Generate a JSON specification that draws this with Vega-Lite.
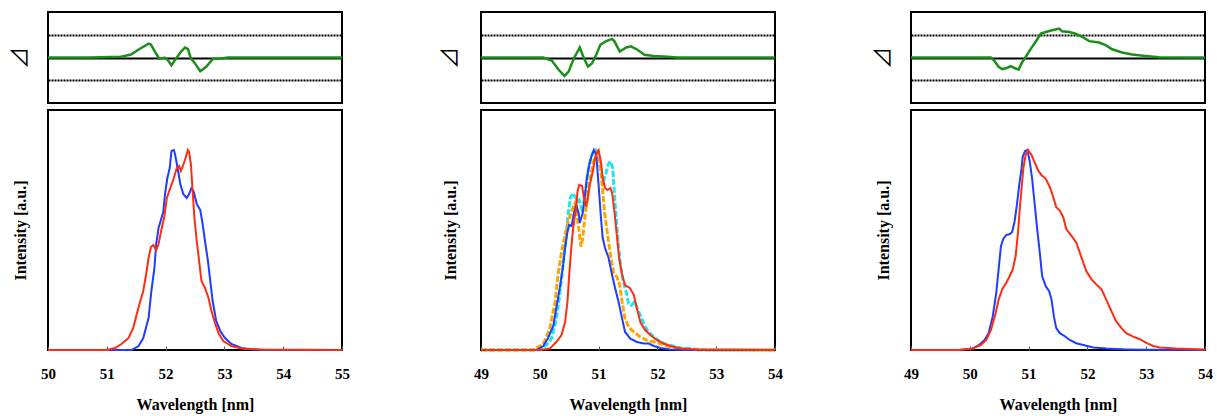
{
"$schema": "https://vega.github.io/schema/vega-lite/v6.json",
"padding": {"left": 7, "top": 11, "right": 2, "bottom": 2},
"background": "white",
"spacing": 86,
"config": {
  "font": "Liberation Serif",
  "view": {"stroke": "black", "strokeWidth": 2},
  "style": {"guide-label": {"font": "Liberation Serif", "fontSize": 15, "fontWeight": "bold", "fill": "black"}, "guide-title": {"font": "Liberation Serif", "fontSize": 16, "fontWeight": "bold", "fill": "black"}},
  "axis": {"labelFont": "Liberation Serif", "titleFont": "Liberation Serif", "labelFontWeight": "bold", "titleFontWeight": "bold", "labelColor": "black", "titleColor": "black", "labelFontSize": 15, "titleFontSize": 16}
},
"datasets": {
"b1": [
{"s":"blue","w":50,"I":0},{"s":"blue","w":51,"I":0},{"s":"blue","w":51.42,"I":0},{"s":"blue","w":51.54,"I":0.02},{"s":"blue","w":51.62,"I":0.06},{"s":"blue","w":51.71,"I":0.16},{"s":"blue","w":51.76,"I":0.30},{"s":"blue","w":51.81,"I":0.41},{"s":"blue","w":51.84,"I":0.53},{"s":"blue","w":51.88,"I":0.61},{"s":"blue","w":51.92,"I":0.65},{"s":"blue","w":51.96,"I":0.69},{"s":"blue","w":51.99,"I":0.78},{"s":"blue","w":52.03,"I":0.86},{"s":"blue","w":52.07,"I":0.91},{"s":"blue","w":52.10,"I":0.995},{"s":"blue","w":52.14,"I":1.0},{"s":"blue","w":52.16,"I":0.98},{"s":"blue","w":52.21,"I":0.90},{"s":"blue","w":52.25,"I":0.83},{"s":"blue","w":52.30,"I":0.78},{"s":"blue","w":52.36,"I":0.76},{"s":"blue","w":52.40,"I":0.78},{"s":"blue","w":52.44,"I":0.81},{"s":"blue","w":52.48,"I":0.79},{"s":"blue","w":52.53,"I":0.73},{"s":"blue","w":52.59,"I":0.70},{"s":"blue","w":52.63,"I":0.63},{"s":"blue","w":52.67,"I":0.545},{"s":"blue","w":52.72,"I":0.445},{"s":"blue","w":52.76,"I":0.345},{"s":"blue","w":52.80,"I":0.245},{"s":"blue","w":52.86,"I":0.145},{"s":"blue","w":52.93,"I":0.095},{"s":"blue","w":53.01,"I":0.06},{"s":"blue","w":53.12,"I":0.03},{"s":"blue","w":53.29,"I":0.01},{"s":"blue","w":53.46,"I":0.003},{"s":"blue","w":53.7,"I":0},{"s":"blue","w":55,"I":0},
{"s":"red","w":50,"I":0},{"s":"red","w":51.0,"I":0},{"s":"red","w":51.14,"I":0.01},{"s":"red","w":51.25,"I":0.03},{"s":"red","w":51.37,"I":0.06},{"s":"red","w":51.45,"I":0.11},{"s":"red","w":51.51,"I":0.18},{"s":"red","w":51.57,"I":0.245},{"s":"red","w":51.62,"I":0.295},{"s":"red","w":51.67,"I":0.38},{"s":"red","w":51.71,"I":0.46},{"s":"red","w":51.75,"I":0.515},{"s":"red","w":51.79,"I":0.525},{"s":"red","w":51.84,"I":0.50},{"s":"red","w":51.88,"I":0.53},{"s":"red","w":51.92,"I":0.59},{"s":"red","w":51.98,"I":0.67},{"s":"red","w":52.02,"I":0.76},{"s":"red","w":52.08,"I":0.81},{"s":"red","w":52.13,"I":0.85},{"s":"red","w":52.19,"I":0.91},{"s":"red","w":52.23,"I":0.92},{"s":"red","w":52.26,"I":0.895},{"s":"red","w":52.30,"I":0.925},{"s":"red","w":52.34,"I":0.96},{"s":"red","w":52.38,"I":1.0},{"s":"red","w":52.40,"I":0.99},{"s":"red","w":52.43,"I":0.93},{"s":"red","w":52.46,"I":0.795},{"s":"red","w":52.49,"I":0.66},{"s":"red","w":52.53,"I":0.545},{"s":"red","w":52.57,"I":0.445},{"s":"red","w":52.61,"I":0.345},{"s":"red","w":52.67,"I":0.31},{"s":"red","w":52.73,"I":0.26},{"s":"red","w":52.78,"I":0.195},{"s":"red","w":52.84,"I":0.135},{"s":"red","w":52.90,"I":0.085},{"s":"red","w":52.98,"I":0.045},{"s":"red","w":53.12,"I":0.02},{"s":"red","w":53.29,"I":0.008},{"s":"red","w":53.6,"I":0.002},{"s":"red","w":55,"I":0}
],
"d1": [
{"w":50,"d":0},{"w":50.73,"d":0},{"w":51.24,"d":0.03},{"w":51.41,"d":0.13},{"w":51.55,"d":0.365},{"w":51.71,"d":0.61},{"w":51.75,"d":0.57},{"w":51.82,"d":0.25},{"w":51.89,"d":-0.04},{"w":51.99,"d":-0.01},{"w":52.04,"d":-0.12},{"w":52.10,"d":-0.34},{"w":52.18,"d":-0.04},{"w":52.26,"d":0.25},{"w":52.33,"d":0.44},{"w":52.38,"d":0.365},{"w":52.43,"d":-0.04},{"w":52.50,"d":-0.26},{"w":52.59,"d":-0.6},{"w":52.69,"d":-0.41},{"w":52.80,"d":-0.07},{"w":52.94,"d":-0.04},{"w":53.06,"d":0},{"w":55,"d":0}
],
"b2": [
{"s":"cyan","w":49,"I":0},{"s":"cyan","w":50.0,"I":0},{"s":"cyan","w":50.11,"I":0.023},{"s":"cyan","w":50.20,"I":0.057},{"s":"cyan","w":50.27,"I":0.14},{"s":"cyan","w":50.33,"I":0.257},{"s":"cyan","w":50.39,"I":0.408},{"s":"cyan","w":50.44,"I":0.542},{"s":"cyan","w":50.48,"I":0.675},{"s":"cyan","w":50.52,"I":0.76},{"s":"cyan","w":50.56,"I":0.784},{"s":"cyan","w":50.60,"I":0.768},{"s":"cyan","w":50.64,"I":0.742},{"s":"cyan","w":50.67,"I":0.75},{"s":"cyan","w":50.71,"I":0.709},{"s":"cyan","w":50.75,"I":0.742},{"s":"cyan","w":50.79,"I":0.826},{"s":"cyan","w":50.83,"I":0.91},{"s":"cyan","w":50.87,"I":0.96},{"s":"cyan","w":50.91,"I":0.993},{"s":"cyan","w":50.95,"I":1.0},{"s":"cyan","w":51.00,"I":0.96},{"s":"cyan","w":51.04,"I":0.893},{"s":"cyan","w":51.08,"I":0.843},{"s":"cyan","w":51.12,"I":0.876},{"s":"cyan","w":51.16,"I":0.926},{"s":"cyan","w":51.20,"I":0.943},{"s":"cyan","w":51.24,"I":0.91},{"s":"cyan","w":51.27,"I":0.776},{"s":"cyan","w":51.30,"I":0.659},{"s":"cyan","w":51.34,"I":0.508},{"s":"cyan","w":51.38,"I":0.408},{"s":"cyan","w":51.42,"I":0.341},{"s":"cyan","w":51.47,"I":0.291},{"s":"cyan","w":51.51,"I":0.232},{"s":"cyan","w":51.56,"I":0.224},{"s":"cyan","w":51.61,"I":0.241},{"s":"cyan","w":51.66,"I":0.207},{"s":"cyan","w":51.72,"I":0.166},{"s":"cyan","w":51.78,"I":0.124},{"s":"cyan","w":51.85,"I":0.09},{"s":"cyan","w":51.94,"I":0.065},{"s":"cyan","w":52.05,"I":0.04},{"s":"cyan","w":52.17,"I":0.027},{"s":"cyan","w":52.4,"I":0.01},{"s":"cyan","w":52.7,"I":0.003},{"s":"cyan","w":53.0,"I":0},{"s":"cyan","w":54,"I":0},
{"s":"orange","w":49,"I":0},{"s":"orange","w":49.89,"I":0},{"s":"orange","w":50.06,"I":0.03},{"s":"orange","w":50.17,"I":0.107},{"s":"orange","w":50.26,"I":0.24},{"s":"orange","w":50.31,"I":0.375},{"s":"orange","w":50.37,"I":0.49},{"s":"orange","w":50.43,"I":0.575},{"s":"orange","w":50.48,"I":0.64},{"s":"orange","w":50.52,"I":0.675},{"s":"orange","w":50.57,"I":0.717},{"s":"orange","w":50.60,"I":0.734},{"s":"orange","w":50.63,"I":0.684},{"s":"orange","w":50.67,"I":0.59},{"s":"orange","w":50.70,"I":0.517},{"s":"orange","w":50.73,"I":0.558},{"s":"orange","w":50.77,"I":0.675},{"s":"orange","w":50.80,"I":0.742},{"s":"orange","w":50.84,"I":0.826},{"s":"orange","w":50.88,"I":0.893},{"s":"orange","w":50.92,"I":0.95},{"s":"orange","w":50.97,"I":0.985},{"s":"orange","w":51.00,"I":0.968},{"s":"orange","w":51.04,"I":0.893},{"s":"orange","w":51.07,"I":0.793},{"s":"orange","w":51.10,"I":0.692},{"s":"orange","w":51.13,"I":0.625},{"s":"orange","w":51.17,"I":0.54},{"s":"orange","w":51.21,"I":0.458},{"s":"orange","w":51.26,"I":0.383},{"s":"orange","w":51.31,"I":0.366},{"s":"orange","w":51.36,"I":0.324},{"s":"orange","w":51.40,"I":0.24},{"s":"orange","w":51.45,"I":0.157},{"s":"orange","w":51.51,"I":0.115},{"s":"orange","w":51.60,"I":0.09},{"s":"orange","w":51.71,"I":0.065},{"s":"orange","w":51.82,"I":0.048},{"s":"orange","w":51.94,"I":0.04},{"s":"orange","w":52.05,"I":0.032},{"s":"orange","w":52.17,"I":0.02},{"s":"orange","w":52.4,"I":0.006},{"s":"orange","w":52.7,"I":0},{"s":"orange","w":54,"I":0},
{"s":"blue","w":49,"I":0},{"s":"blue","w":49.94,"I":0},{"s":"blue","w":50.06,"I":0.02},{"s":"blue","w":50.14,"I":0.06},{"s":"blue","w":50.23,"I":0.12},{"s":"blue","w":50.28,"I":0.21},{"s":"blue","w":50.34,"I":0.31},{"s":"blue","w":50.39,"I":0.41},{"s":"blue","w":50.43,"I":0.51},{"s":"blue","w":50.47,"I":0.59},{"s":"blue","w":50.50,"I":0.625},{"s":"blue","w":50.54,"I":0.62},{"s":"blue","w":50.58,"I":0.685},{"s":"blue","w":50.62,"I":0.725},{"s":"blue","w":50.66,"I":0.685},{"s":"blue","w":50.68,"I":0.635},{"s":"blue","w":50.73,"I":0.685},{"s":"blue","w":50.77,"I":0.775},{"s":"blue","w":50.80,"I":0.86},{"s":"blue","w":50.84,"I":0.925},{"s":"blue","w":50.88,"I":0.97},{"s":"blue","w":50.92,"I":1.0},{"s":"blue","w":50.96,"I":0.975},{"s":"blue","w":51.00,"I":0.826},{"s":"blue","w":51.04,"I":0.66},{"s":"blue","w":51.07,"I":0.56},{"s":"blue","w":51.11,"I":0.51},{"s":"blue","w":51.17,"I":0.46},{"s":"blue","w":51.23,"I":0.375},{"s":"blue","w":51.28,"I":0.31},{"s":"blue","w":51.34,"I":0.24},{"s":"blue","w":51.40,"I":0.157},{"s":"blue","w":51.45,"I":0.09},{"s":"blue","w":51.54,"I":0.057},{"s":"blue","w":51.65,"I":0.04},{"s":"blue","w":51.77,"I":0.032},{"s":"blue","w":51.85,"I":0.032},{"s":"blue","w":51.94,"I":0.02},{"s":"blue","w":52.05,"I":0.01},{"s":"blue","w":52.22,"I":0.003},{"s":"blue","w":52.5,"I":0},{"s":"blue","w":54,"I":0},
{"s":"red","w":49,"I":0},{"s":"red","w":50.0,"I":0},{"s":"red","w":50.17,"I":0.007},{"s":"red","w":50.28,"I":0.04},{"s":"red","w":50.37,"I":0.075},{"s":"red","w":50.43,"I":0.14},{"s":"red","w":50.47,"I":0.24},{"s":"red","w":50.50,"I":0.375},{"s":"red","w":50.53,"I":0.49},{"s":"red","w":50.56,"I":0.59},{"s":"red","w":50.59,"I":0.66},{"s":"red","w":50.62,"I":0.71},{"s":"red","w":50.64,"I":0.79},{"s":"red","w":50.67,"I":0.826},{"s":"red","w":50.72,"I":0.82},{"s":"red","w":50.75,"I":0.76},{"s":"red","w":50.79,"I":0.717},{"s":"red","w":50.81,"I":0.75},{"s":"red","w":50.85,"I":0.826},{"s":"red","w":50.90,"I":0.89},{"s":"red","w":50.94,"I":0.96},{"s":"red","w":50.98,"I":0.993},{"s":"red","w":51.00,"I":1.0},{"s":"red","w":51.04,"I":0.94},{"s":"red","w":51.07,"I":0.86},{"s":"red","w":51.11,"I":0.81},{"s":"red","w":51.15,"I":0.80},{"s":"red","w":51.20,"I":0.81},{"s":"red","w":51.23,"I":0.785},{"s":"red","w":51.27,"I":0.69},{"s":"red","w":51.31,"I":0.575},{"s":"red","w":51.35,"I":0.46},{"s":"red","w":51.40,"I":0.375},{"s":"red","w":51.45,"I":0.325},{"s":"red","w":51.53,"I":0.31},{"s":"red","w":51.60,"I":0.275},{"s":"red","w":51.65,"I":0.21},{"s":"red","w":51.71,"I":0.14},{"s":"red","w":51.79,"I":0.10},{"s":"red","w":51.88,"I":0.075},{"s":"red","w":51.99,"I":0.05},{"s":"red","w":52.11,"I":0.032},{"s":"red","w":52.22,"I":0.02},{"s":"red","w":52.4,"I":0.008},{"s":"red","w":52.7,"I":0.002},{"s":"red","w":54,"I":0}
],
"d2": [
{"w":49,"d":0},{"w":50.06,"d":0},{"w":50.21,"d":-0.15},{"w":50.32,"d":-0.54},{"w":50.42,"d":-0.81},{"w":50.49,"d":-0.62},{"w":50.58,"d":-0.03},{"w":50.68,"d":0.44},{"w":50.75,"d":-0.03},{"w":50.82,"d":-0.40},{"w":50.89,"d":-0.25},{"w":50.96,"d":0.12},{"w":51.03,"d":0.56},{"w":51.12,"d":0.71},{"w":51.23,"d":0.82},{"w":51.27,"d":0.71},{"w":51.36,"d":0.26},{"w":51.47,"d":0.44},{"w":51.55,"d":0.49},{"w":51.66,"d":0.34},{"w":51.78,"d":0.12},{"w":51.94,"d":0.07},{"w":52.17,"d":0.03},{"w":52.34,"d":0},{"w":54,"d":0}
],
"b3": [
{"s":"blue","w":49,"I":0},{"s":"blue","w":49.82,"I":0},{"s":"blue","w":50.05,"I":0.008},{"s":"blue","w":50.16,"I":0.025},{"s":"blue","w":50.25,"I":0.05},{"s":"blue","w":50.32,"I":0.084},{"s":"blue","w":50.39,"I":0.168},{"s":"blue","w":50.45,"I":0.286},{"s":"blue","w":50.49,"I":0.403},{"s":"blue","w":50.53,"I":0.52},{"s":"blue","w":50.57,"I":0.555},{"s":"blue","w":50.62,"I":0.575},{"s":"blue","w":50.68,"I":0.58},{"s":"blue","w":50.72,"I":0.59},{"s":"blue","w":50.76,"I":0.64},{"s":"blue","w":50.80,"I":0.723},{"s":"blue","w":50.84,"I":0.824},{"s":"blue","w":50.88,"I":0.908},{"s":"blue","w":50.90,"I":0.966},{"s":"blue","w":50.94,"I":0.995},{"s":"blue","w":50.98,"I":1.0},{"s":"blue","w":51.02,"I":0.941},{"s":"blue","w":51.06,"I":0.857},{"s":"blue","w":51.10,"I":0.74},{"s":"blue","w":51.14,"I":0.622},{"s":"blue","w":51.19,"I":0.487},{"s":"blue","w":51.23,"I":0.37},{"s":"blue","w":51.29,"I":0.32},{"s":"blue","w":51.35,"I":0.294},{"s":"blue","w":51.39,"I":0.252},{"s":"blue","w":51.43,"I":0.168},{"s":"blue","w":51.47,"I":0.109},{"s":"blue","w":51.53,"I":0.084},{"s":"blue","w":51.61,"I":0.07},{"s":"blue","w":51.70,"I":0.05},{"s":"blue","w":51.81,"I":0.034},{"s":"blue","w":51.93,"I":0.025},{"s":"blue","w":52.10,"I":0.013},{"s":"blue","w":52.32,"I":0.007},{"s":"blue","w":52.66,"I":0.003},{"s":"blue","w":53.0,"I":0.001},{"s":"blue","w":54,"I":0},
{"s":"red","w":49,"I":0},{"s":"red","w":49.82,"I":0},{"s":"red","w":50.05,"I":0.008},{"s":"red","w":50.19,"I":0.025},{"s":"red","w":50.28,"I":0.05},{"s":"red","w":50.36,"I":0.1},{"s":"red","w":50.44,"I":0.185},{"s":"red","w":50.49,"I":0.252},{"s":"red","w":50.55,"I":0.303},{"s":"red","w":50.62,"I":0.336},{"s":"red","w":50.68,"I":0.37},{"s":"red","w":50.73,"I":0.403},{"s":"red","w":50.78,"I":0.47},{"s":"red","w":50.82,"I":0.588},{"s":"red","w":50.85,"I":0.706},{"s":"red","w":50.88,"I":0.807},{"s":"red","w":50.91,"I":0.908},{"s":"red","w":50.95,"I":0.975},{"s":"red","w":50.99,"I":1.0},{"s":"red","w":51.05,"I":0.975},{"s":"red","w":51.10,"I":0.941},{"s":"red","w":51.16,"I":0.899},{"s":"red","w":51.22,"I":0.874},{"s":"red","w":51.29,"I":0.857},{"s":"red","w":51.36,"I":0.815},{"s":"red","w":51.41,"I":0.773},{"s":"red","w":51.47,"I":0.714},{"s":"red","w":51.53,"I":0.697},{"s":"red","w":51.59,"I":0.664},{"s":"red","w":51.64,"I":0.605},{"s":"red","w":51.73,"I":0.571},{"s":"red","w":51.81,"I":0.538},{"s":"red","w":51.90,"I":0.462},{"s":"red","w":51.98,"I":0.395},{"s":"red","w":52.07,"I":0.353},{"s":"red","w":52.15,"I":0.328},{"s":"red","w":52.24,"I":0.303},{"s":"red","w":52.32,"I":0.252},{"s":"red","w":52.41,"I":0.193},{"s":"red","w":52.49,"I":0.143},{"s":"red","w":52.58,"I":0.109},{"s":"red","w":52.66,"I":0.084},{"s":"red","w":52.78,"I":0.067},{"s":"red","w":52.89,"I":0.054},{"s":"red","w":53.01,"I":0.034},{"s":"red","w":53.12,"I":0.02},{"s":"red","w":53.23,"I":0.013},{"s":"red","w":53.5,"I":0.008},{"s":"red","w":54,"I":0.003}
],
"d3": [
{"w":49,"d":0},{"w":50.36,"d":0},{"w":50.41,"d":-0.12},{"w":50.49,"d":-0.41},{"w":50.55,"d":-0.51},{"w":50.64,"d":-0.45},{"w":50.70,"d":-0.38},{"w":50.75,"d":-0.45},{"w":50.83,"d":-0.53},{"w":50.88,"d":-0.26},{"w":50.95,"d":0.03},{"w":51.04,"d":0.39},{"w":51.12,"d":0.69},{"w":51.21,"d":1.05},{"w":51.29,"d":1.12},{"w":51.40,"d":1.20},{"w":51.52,"d":1.27},{"w":51.57,"d":1.15},{"w":51.69,"d":1.12},{"w":51.80,"d":1.05},{"w":51.91,"d":0.91},{"w":52.03,"d":0.72},{"w":52.20,"d":0.66},{"w":52.31,"d":0.54},{"w":52.42,"d":0.36},{"w":52.59,"d":0.22},{"w":52.76,"d":0.13},{"w":52.99,"d":0.07},{"w":53.22,"d":0.015},{"w":53.73,"d":0},{"w":54,"d":0}
]
},
"hconcat": [
{"spacing": 5, "vconcat": [
 {"width": 294, "height": 91, "data": {"name": "d1"},
  "mark": {"type": "line", "color": "#1a8f1a", "strokeWidth": 2.5},
  "encoding": {
   "x": {"field": "w", "type": "quantitative", "scale": {"domain": [50, 55], "nice": false, "zero": false}, "axis": null},
   "y": {"field": "d", "type": "quantitative", "scale": {"domain": [-2, 2], "nice": false}, "axis": {"title": "⊿", "titleFont": "Noto Sans CJK JP", "titleFontWeight": "normal", "titleFontSize": 22, "labels": false, "ticks": false, "domain": false, "grid": true, "values": [-1, 0, 1], "gridColor": "black", "gridWidth": 2, "gridDash": {"condition": {"test": "datum.value === 0", "value": []}, "value": [2, 1]}, "titlePadding": 17}}
  }},
 {"width": 294, "height": 240, "data": {"name": "b1"},
  "mark": {"type": "line", "strokeWidth": 2},
  "encoding": {
   "x": {"field": "w", "type": "quantitative", "scale": {"domain": [50, 55], "nice": false, "zero": false}, "axis": {"title": "Wavelength [nm]", "values": [50, 51, 52, 53, 54, 55], "format": "d", "grid": false, "domain": false, "tickSize": -4, "tickColor": "#555", "labelPadding": 20, "labelFlush": false, "titlePadding": 15, "labelFontSize": 15, "titleFontSize": 16}},
   "y": {"field": "I", "type": "quantitative", "scale": {"domain": [0, 1.2], "nice": false}, "axis": {"title": "Intensity [a.u.]", "labels": false, "ticks": false, "domain": false, "grid": false, "titlePadding": 20, "titleFontSize": 16}},
   "color": {"field": "s", "type": "nominal", "scale": {"domain": ["cyan", "orange", "blue", "red"], "range": ["#22e6ee", "#ffa500", "#1f3cff", "#ff2d0f"]}, "legend": null}
  }}
]},
{"spacing": 5, "vconcat": [
 {"width": 294, "height": 91, "data": {"name": "d2"},
  "mark": {"type": "line", "color": "#1a8f1a", "strokeWidth": 2.5},
  "encoding": {
   "x": {"field": "w", "type": "quantitative", "scale": {"domain": [49, 54], "nice": false, "zero": false}, "axis": null},
   "y": {"field": "d", "type": "quantitative", "scale": {"domain": [-2, 2], "nice": false}, "axis": {"title": "⊿", "titleFont": "Noto Sans CJK JP", "titleFontWeight": "normal", "titleFontSize": 22, "labels": false, "ticks": false, "domain": false, "grid": true, "values": [-1, 0, 1], "gridColor": "black", "gridWidth": 2, "gridDash": {"condition": {"test": "datum.value === 0", "value": []}, "value": [2, 1]}, "titlePadding": 20}}
  }},
 {"width": 294, "height": 240, "data": {"name": "b2"},
  "encoding": {
   "x": {"field": "w", "type": "quantitative", "scale": {"domain": [49, 54], "nice": false, "zero": false}, "axis": {"title": "Wavelength [nm]", "values": [49, 50, 51, 52, 53, 54], "format": "d", "grid": false, "domain": false, "tickSize": -4, "tickColor": "#555", "labelPadding": 20, "labelFlush": false, "titlePadding": 15, "labelFontSize": 15, "titleFontSize": 16}},
   "y": {"field": "I", "type": "quantitative", "scale": {"domain": [0, 1.2], "nice": false}, "axis": {"title": "Intensity [a.u.]", "labels": false, "ticks": false, "domain": false, "grid": false, "titlePadding": 23, "titleFontSize": 16}},
   "color": {"field": "s", "type": "nominal", "scale": {"domain": ["cyan", "orange", "blue", "red"], "range": ["#22e6ee", "#ffa500", "#1f3cff", "#ff2d0f"]}, "legend": null}
  },
  "layer": [
   {"transform": [{"filter": "datum.s === 'cyan' || datum.s === 'orange'"}], "mark": {"type": "line", "strokeWidth": 3, "strokeDash": [6, 2]}},
   {"transform": [{"filter": "datum.s === 'blue' || datum.s === 'red'"}], "mark": {"type": "line", "strokeWidth": 2}}
  ]}
]},
{"spacing": 5, "vconcat": [
 {"width": 294, "height": 91, "data": {"name": "d3"},
  "mark": {"type": "line", "color": "#1a8f1a", "strokeWidth": 2.5},
  "encoding": {
   "x": {"field": "w", "type": "quantitative", "scale": {"domain": [49, 54], "nice": false, "zero": false}, "axis": null},
   "y": {"field": "d", "type": "quantitative", "scale": {"domain": [-2, 2], "nice": false}, "axis": {"title": "⊿", "titleFont": "Noto Sans CJK JP", "titleFontWeight": "normal", "titleFontSize": 22, "labels": false, "ticks": false, "domain": false, "grid": true, "values": [-1, 0, 1], "gridColor": "black", "gridWidth": 2, "gridDash": {"condition": {"test": "datum.value === 0", "value": []}, "value": [2, 1]}, "titlePadding": 17}}
  }},
 {"width": 294, "height": 240, "data": {"name": "b3"},
  "mark": {"type": "line", "strokeWidth": 2},
  "encoding": {
   "x": {"field": "w", "type": "quantitative", "scale": {"domain": [49, 54], "nice": false, "zero": false}, "axis": {"title": "Wavelength [nm]", "values": [49, 50, 51, 52, 53, 54], "format": "d", "grid": false, "domain": false, "tickSize": -4, "tickColor": "#555", "labelPadding": 20, "labelFlush": false, "titlePadding": 15, "labelFontSize": 15, "titleFontSize": 16}},
   "y": {"field": "I", "type": "quantitative", "scale": {"domain": [0, 1.2], "nice": false}, "axis": {"title": "Intensity [a.u.]", "labels": false, "ticks": false, "domain": false, "grid": false, "titlePadding": 20, "titleFontSize": 16}},
   "color": {"field": "s", "type": "nominal", "scale": {"domain": ["cyan", "orange", "blue", "red"], "range": ["#22e6ee", "#ffa500", "#1f3cff", "#ff2d0f"]}, "legend": null}
  }}
]}
]
}
